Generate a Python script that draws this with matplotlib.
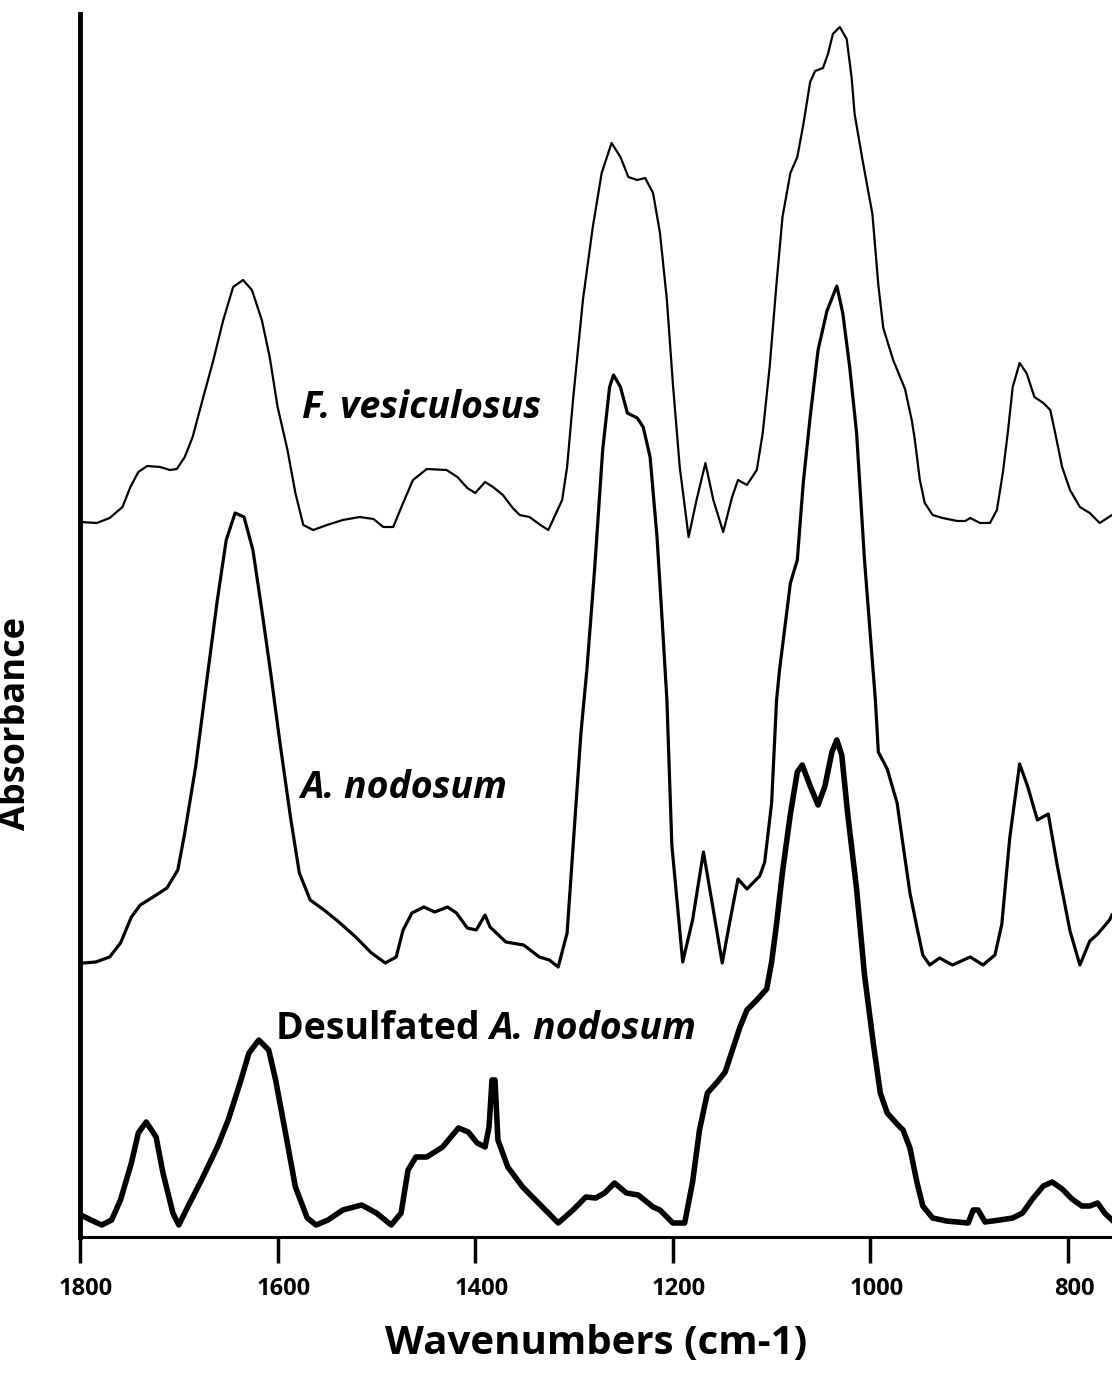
import matplotlib
matplotlib.use('Agg')
import matplotlib.pyplot as plt
from matplotlib.transforms import ScaledTranslation

# wavenumbers (cm-1) and absorbance (arbitrary units, stacked as in the figure)
fves_wn = [1800, 1783, 1770, 1757, 1749, 1741, 1732, 1719, 1709, 1702, 1694, 1686, 1676, 1665, 1655,
           1645, 1635, 1626, 1616, 1608, 1600, 1590, 1582, 1574, 1564, 1550, 1534, 1517, 1503, 1493,
           1483, 1473, 1463, 1449, 1429, 1418, 1408, 1400, 1390, 1382, 1372, 1362, 1355, 1345, 1334,
           1326, 1312, 1307, 1301, 1291, 1281, 1272, 1262, 1253, 1245, 1236, 1228, 1220, 1213, 1206,
           1200, 1193, 1184, 1176, 1167, 1159, 1149, 1140, 1134, 1125, 1115, 1109, 1102, 1095, 1089,
           1081, 1074, 1068, 1061, 1056, 1048, 1043, 1038, 1031, 1024, 1019, 1016, 1008, 998, 992,
           987, 977, 965, 958, 955, 950, 945, 937, 927, 912, 904, 899, 889, 879, 872,
           866, 861, 856, 849, 842, 834, 825, 818, 813, 806, 798, 788, 778, 768, 755.5]
fves_abs = [0.715, 0.714, 0.719, 0.730, 0.750, 0.765, 0.771, 0.770, 0.767, 0.768, 0.780, 0.800, 0.837, 0.877, 0.917,
            0.950, 0.957, 0.947, 0.917, 0.880, 0.830, 0.787, 0.744, 0.712, 0.707, 0.712, 0.717, 0.720, 0.718, 0.710,
            0.710, 0.734, 0.757, 0.768, 0.767, 0.760, 0.749, 0.744, 0.755, 0.750, 0.742, 0.729, 0.722, 0.720, 0.712,
            0.707, 0.737, 0.770, 0.837, 0.937, 1.010, 1.064, 1.094, 1.080, 1.060, 1.057, 1.059, 1.044, 1.004, 0.937,
            0.854, 0.770, 0.700, 0.737, 0.774, 0.737, 0.705, 0.740, 0.757, 0.752, 0.767, 0.804, 0.870, 0.954, 1.020,
            1.064, 1.080, 1.112, 1.155, 1.166, 1.169, 1.183, 1.203, 1.210, 1.198, 1.159, 1.123, 1.077, 1.023, 0.952,
            0.909, 0.877, 0.848, 0.816, 0.797, 0.757, 0.734, 0.722, 0.719, 0.716, 0.716, 0.719, 0.714, 0.714, 0.727,
            0.764, 0.804, 0.850, 0.874, 0.864, 0.840, 0.834, 0.827, 0.804, 0.770, 0.747, 0.730, 0.724, 0.714, 0.722]

anod_wn = [1800, 1797, 1784, 1770, 1759, 1748, 1739, 1726, 1712, 1701, 1694, 1683, 1672, 1661, 1652,
           1643, 1634, 1625, 1616, 1607, 1598, 1587, 1578, 1567, 1553, 1538, 1521, 1505, 1491, 1480,
           1473, 1464, 1452, 1441, 1428, 1419, 1408, 1399, 1390, 1385, 1369, 1351, 1335, 1325, 1316,
           1307, 1300, 1293, 1287, 1279, 1271, 1264, 1260, 1253, 1246, 1236, 1230, 1223, 1216, 1211,
           1206, 1201, 1190, 1180, 1169, 1159, 1150, 1142, 1134, 1125, 1112, 1107, 1100, 1095, 1092,
           1081, 1074, 1068, 1061, 1053, 1044, 1034, 1028, 1021, 1014, 1006, 995, 992, 983, 973,
           968, 960, 953, 947, 940, 930, 917, 899, 886, 874, 867, 859, 849, 841, 831,
           820, 811, 798, 788, 778, 770, 758, 755.5]
anod_abs = [0.272, 0.274, 0.275, 0.280, 0.294, 0.320, 0.332, 0.340, 0.349, 0.367, 0.404, 0.470, 0.554, 0.637, 0.697,
            0.724, 0.720, 0.687, 0.627, 0.564, 0.497, 0.420, 0.364, 0.337, 0.327, 0.315, 0.300, 0.284, 0.274, 0.280,
            0.307, 0.324, 0.330, 0.325, 0.330, 0.324, 0.309, 0.307, 0.322, 0.310, 0.295, 0.292, 0.280, 0.277, 0.270,
            0.304, 0.404, 0.504, 0.567, 0.670, 0.787, 0.850, 0.862, 0.850, 0.824, 0.819, 0.810, 0.780, 0.700, 0.620,
            0.537, 0.392, 0.275, 0.317, 0.385, 0.327, 0.274, 0.317, 0.358, 0.348, 0.361, 0.375, 0.434, 0.537, 0.567,
            0.654, 0.677, 0.754, 0.820, 0.887, 0.926, 0.951, 0.924, 0.870, 0.804, 0.677, 0.537, 0.485, 0.468, 0.434,
            0.399, 0.344, 0.310, 0.282, 0.272, 0.279, 0.272, 0.280, 0.272, 0.282, 0.313, 0.399, 0.473, 0.451, 0.417,
            0.423, 0.372, 0.306, 0.272, 0.296, 0.303, 0.317, 0.322]

desu_wn = [1799, 1789, 1778, 1768, 1759, 1748, 1741, 1733, 1723, 1716, 1706, 1700, 1691, 1677, 1661,
           1650, 1638, 1629, 1619, 1609, 1602, 1592, 1582, 1570, 1561, 1549, 1534, 1515, 1500, 1485,
           1475, 1468, 1460, 1449, 1433, 1417, 1407, 1398, 1390, 1386, 1383, 1380, 1377, 1367, 1352,
           1336, 1316, 1301, 1288, 1278, 1269, 1259, 1247, 1235, 1220, 1213, 1200, 1188, 1180, 1173,
           1165, 1155, 1147, 1139, 1132, 1125, 1115, 1105, 1100, 1095, 1089, 1081, 1074, 1069, 1061,
           1053, 1046, 1039, 1034, 1029, 1023, 1014, 1006, 997, 990, 983, 973, 967, 960, 953,
           947, 937, 923, 901, 896, 891, 884, 869, 856, 846, 836, 825, 816, 806, 796,
           786, 778, 770, 763, 755.5]
desu_abs = [0.022, 0.017, 0.012, 0.017, 0.037, 0.074, 0.104, 0.115, 0.100, 0.064, 0.024, 0.012, 0.030, 0.057, 0.090,
            0.117, 0.154, 0.184, 0.197, 0.187, 0.157, 0.104, 0.050, 0.019, 0.012, 0.017, 0.027, 0.032, 0.024, 0.012,
            0.024, 0.067, 0.080, 0.080, 0.090, 0.109, 0.105, 0.094, 0.090, 0.110, 0.157, 0.157, 0.097, 0.070, 0.050,
            0.034, 0.014, 0.027, 0.040, 0.039, 0.044, 0.054, 0.044, 0.042, 0.030, 0.027, 0.014, 0.014, 0.055, 0.107,
            0.144, 0.155, 0.165, 0.189, 0.210, 0.227, 0.237, 0.248, 0.275, 0.313, 0.365, 0.423, 0.465, 0.472, 0.451,
            0.432, 0.451, 0.485, 0.497, 0.482, 0.423, 0.348, 0.262, 0.193, 0.144, 0.124, 0.113, 0.107, 0.089, 0.055,
            0.031, 0.019, 0.016, 0.014, 0.027, 0.027, 0.015, 0.017, 0.019, 0.024, 0.038, 0.051, 0.055, 0.048, 0.038,
            0.031, 0.031, 0.034, 0.024, 0.017]

xticks = [1800, 1600, 1400, 1200, 1000, 800]

upright = dict(family='Open Sans', weight='bold')
slanted = dict(family='Open Sans', weight='bold', style='italic')

fig = plt.figure(figsize=(11.12, 13.76), dpi=100)
ax = fig.add_axes([80 / 1112, 139 / 1376, 1032 / 1112, 1223 / 1376])

ax.plot(fves_wn, fves_abs, color='black', lw=1.6, solid_joinstyle='round')
ax.plot(anod_wn, anod_abs, color='black', lw=2.3, solid_joinstyle='round')
ax.plot(desu_wn, desu_abs, color='black', lw=4.0, solid_joinstyle='round')

ax.set_xlim(1800, 755.5)
ax.set_ylim(0, 1.223)

for s in ['top', 'right']:
    ax.spines[s].set_visible(False)
ax.spines['left'].set_linewidth(3.5)
ax.spines['bottom'].set_linewidth(2.2)

ax.set_yticks([])
ax.set_xticks(xticks)
ax.set_xticklabels([str(t) for t in xticks], fontsize=17, **upright)
ax.tick_params(axis='x', direction='out', length=19, width=2.5, pad=10)
# tick labels sit a little to the right of their ticks in the original
shift = ScaledTranslation(6 / 100, 0, fig.dpi_scale_trans)
for lab in ax.get_xticklabels():
    lab.set_transform(lab.get_transform() + shift)

ax.set_xlabel('Wavenumbers (cm-1)', fontsize=29, labelpad=16, **upright)
ax.set_ylabel('Absorbance', fontsize=26, **upright)
ax.yaxis.set_label_coords(-0.045, 0.42)

ax.text(1575, 0.819, 'F. vesiculosus', fontsize=27, ha='left', va='baseline', **slanted)
ax.text(1577, 0.439, 'A. nodosum', fontsize=27, ha='left', va='baseline', **slanted)
t = ax.text(1602, 0.198, 'Desulfated ', fontsize=27, ha='left', va='baseline', **upright)
ax.annotate('A. nodosum', xy=(1, 0), xycoords=t, fontsize=27, ha='left', va='bottom', **slanted)

fig.savefig('out.png', dpi=100)
